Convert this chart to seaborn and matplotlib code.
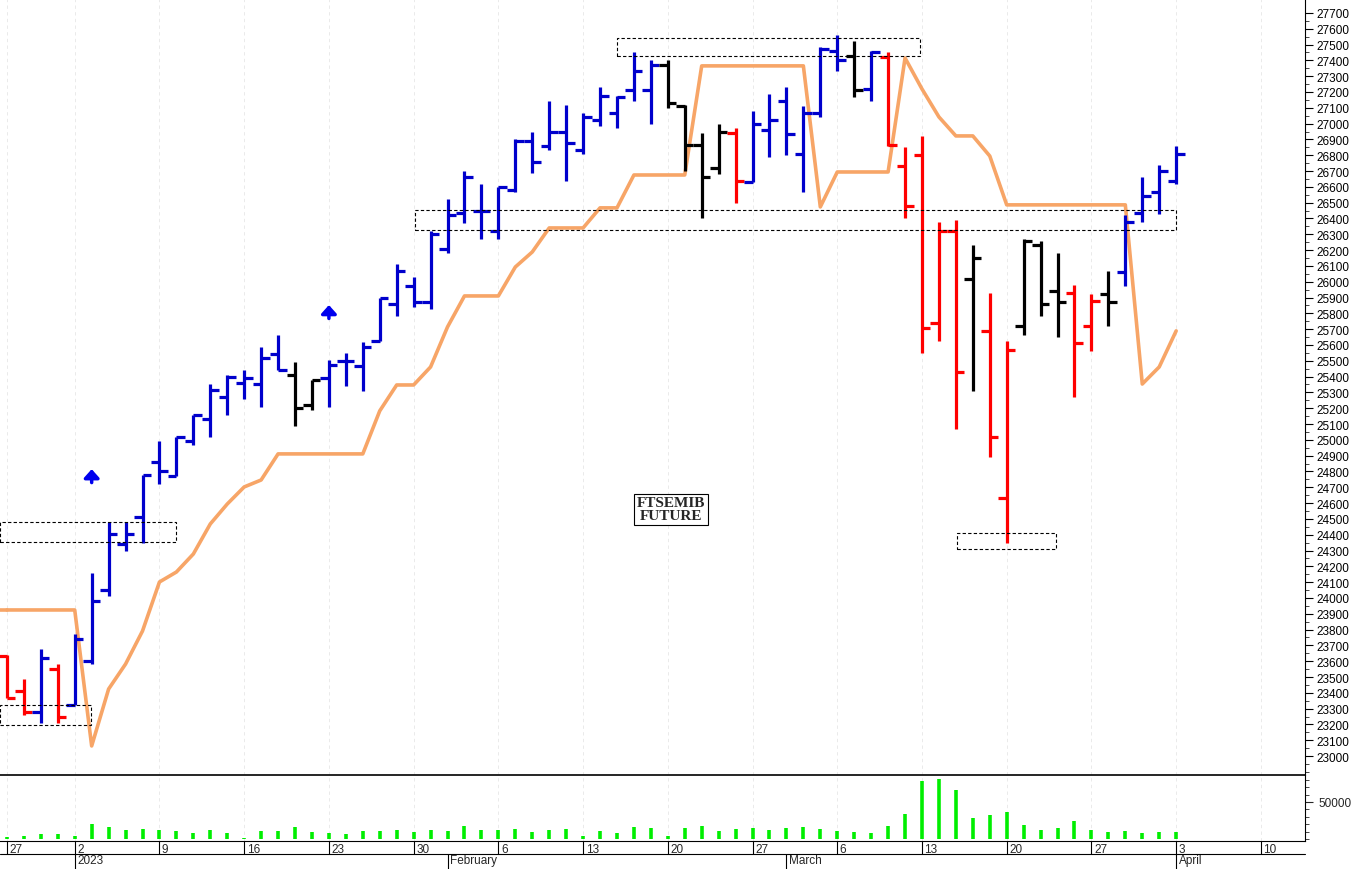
import matplotlib
matplotlib.use('Agg')
import matplotlib.pyplot as plt
from matplotlib.patches import Rectangle
import numpy as np
import pandas as pd
import seaborn as sns

# Daily bars, FTSEMIB future, 27 Dec 2022 -> 3 Apr 2023
opens = [23630, 23410, 23280, 23550, 23320, 23600, 24050, 24340, 24510, 24860,
         24770, 24990, 25130, 25270, 25360, 25350, 25540, 25410, 25220, 25390,
         25500, 25470, 25625, 25860, 25970, 25870, 26210, 26435, 26450, 26320,
         26580, 26890, 26860, 26950, 26830, 27020, 27070, 27210, 27210, 27370,
         27110, 26865, 26720, 26940, 26630, 26960, 27140, 26810, 27070, 27460,
         27430, 27220, 27420, 26730, 26800, 25740, 26320, 26020, 25690, 24630,
         25720, 26230, 25940, 25930, 25720, 25920, 26060, 26435, 26570, 26640]
highs = [23640, 23490, 23680, 23580, 23770, 24160, 24480, 24480, 24780, 24990,
         25020, 25160, 25350, 25410, 25440, 25590, 25660, 25490, 25380, 25505,
         25550, 25620, 25900, 26110, 26030, 26320, 26520, 26700, 26620, 26600,
         26900, 26950, 27140, 27120, 27070, 27230, 27175, 27450, 27400, 27400,
         27120, 26940, 27000, 26970, 27080, 27190, 27230, 27110, 27485, 27560,
         27520, 27460, 27450, 26850, 26920, 26380, 26390, 26230, 25930, 25625,
         26270, 26260, 26180, 25980, 25920, 26070, 26420, 26660, 26740, 26860]
lows = [23370, 23260, 23210, 23210, 23320, 23580, 24010, 24300, 24350, 24720,
        24770, 24970, 25020, 25160, 25260, 25210, 25440, 25090, 25190, 25210,
        25340, 25310, 25625, 25780, 25840, 25830, 26180, 26370, 26270, 26270,
        26570, 26690, 26830, 26640, 26810, 26985, 26970, 27140, 27000, 27100,
        26700, 26400, 26680, 26500, 26630, 26790, 26800, 26570, 27040, 27330,
        27170, 27140, 26860, 26400, 25550, 25625, 25070, 25310, 24890, 24350,
        25660, 25780, 25650, 25270, 25560, 25720, 25970, 26380, 26430, 26620]
closes = [23370, 23280, 23620, 23250, 23740, 23980, 24405, 24405, 24780, 24800,
          25020, 25160, 25315, 25400, 25390, 25520, 25440, 25200, 25380, 25475,
          25500, 25590, 25900, 26070, 25870, 26300, 26420, 26660, 26450, 26600,
          26890, 26760, 26950, 26880, 27040, 27175, 27170, 27330, 27370, 27130,
          26865, 26660, 26950, 26640, 27000, 27020, 26935, 27070, 27470, 27400,
          27210, 27450, 26865, 26480, 25710, 26320, 25430, 26150, 25020, 25570,
          26260, 25860, 25870, 25610, 25880, 25870, 26380, 26540, 26700, 26810]
bar_colors = (['r', 'r', 'b', 'r'] + ['b'] * 13 + ['k'] * 2 + ['b'] * 20 + ['k'] * 4
              + ['r'] + ['b'] * 6 + ['k', 'b'] + ['r'] * 5 + ['k', 'r', 'r', 'k', 'k', 'k',
              'r', 'r', 'k'] + ['b'] * 4)
stop_line = ([23924] * 5 + [23064, 23424, 23582, 23791, 24101, 24164, 24278, 24468,
             24594, 24702, 24746] + [24911] * 6 + [25183, 25347, 25347, 25461, 25714]
             + [25910] * 3 + [26093, 26188] + [26340] * 3 + [26467] * 2 + [26675] * 4
             + [27365] * 7 + [26473] + [26694] * 4 + [27415, 27219, 27042, 26922, 26922,
             26795] + [26486] * 8 + [25353, 25461, 25689])
volume = [2250, 4500, 6750, 6750, 3600, 20250, 15750, 12150, 13500, 11700,
          10800, 8100, 12600, 8100, 1350, 10350, 11250, 15750, 9000, 8100,
          6300, 10800, 10800, 12150, 9900, 11700, 10800, 17100, 12150, 12600,
          13500, 9000, 12600, 13050, 4500, 10800, 8100, 15750, 14850, 3600,
          14400, 17550, 10800, 13050, 14850, 11700, 14400, 15750, 13050, 10800,
          9000, 8100, 17100, 33750, 78750, 81000, 66150, 27900, 32400, 36900,
          18900, 11700, 14400, 24750, 12600, 9000, 10800, 8100, 9000, 9000]

tick_pos = [0, 4, 9, 14, 19, 24, 29, 34, 39, 44, 49, 54, 59, 64, 69, 74]
tick_labels = ['27', '2', '9', '16', '23', '30', '6', '13', '20', '27',
               '6', '13', '20', '27', '3', '10']
month_pos = [4, 26, 46, 69]
month_labels = ['2023', 'February', 'March', 'April']

# dashed boxes: (x0, x1, price low, price high)
boxes = [(-0.41, 9.97, 24354, 24481), (-0.41, 4.96, 23197, 23323),
         (36.0, 53.9, 27428, 27542), (24.07, 69.0, 26328, 26454),
         (56.05, 61.9, 24310, 24411)]
arrows = [(5, 24772), (19, 25810)]

df = pd.DataFrame({'day': np.arange(len(closes)), 'open': opens, 'high': highs,
                   'low': lows, 'close': closes, 'color': bar_colors,
                   'stop': stop_line, 'volume': volume})
cmap = {'r': '#ff0000', 'b': '#0000cc', 'k': '#000000'}

sns.set_style('white')
plt.rcParams['font.family'] = ['Liberation Sans', 'DejaVu Sans']

fig = plt.figure(figsize=(13.52, 8.70), dpi=100)
ax = fig.add_axes([0, 0.108, 0.9652, 0.892])
axv = fig.add_axes([0, 0.0322, 0.9652, 0.0759], sharex=ax)
axv.patch.set_visible(False)

xlim = (-0.41, 76.6)
for a in (ax, axv):
    for p in tick_pos:
        a.axvline(p, color='#e6e6e6', lw=0.6, ls=(0, (4, 4)), zorder=0)

# price bars
for _, r in df.iterrows():
    c = cmap[r['color']]
    ax.vlines(r['day'], r['low'], r['high'], color=c, lw=2.3, zorder=3)
    ax.hlines(r['open'], r['day'] - 0.5, r['day'], color=c, lw=2.3, zorder=3)
    ax.hlines(r['close'], r['day'], r['day'] + 0.5, color=c, lw=2.3, zorder=3)

sns.lineplot(data=df, x='day', y='stop', ax=ax, color='#f7a567', lw=2.6, zorder=2)
ax.plot([xlim[0], 0], [stop_line[0], stop_line[0]], color='#f7a567', lw=2.6, zorder=2)

for x0, x1, lo, hi in boxes:
    ax.add_patch(Rectangle((x0, lo), x1 - x0, hi - lo, fill=False, ec='black',
                           lw=0.8, ls=(0, (3, 2)), zorder=4))
for xa, ya in arrows:
    ax.annotate('', xy=(xa, ya + 60), xytext=(xa, ya - 60),
                arrowprops=dict(arrowstyle='-|>,head_width=0.45,head_length=0.5',
                                color='#0000ee', lw=2.5))

ax.text(39.2, 24560, 'FTSEMIB\nFUTURE', ha='center', va='center', fontsize=11,
        fontweight='bold', linespacing=1.0, family=['Liberation Serif', 'DejaVu Serif'],
        bbox=dict(facecolor='white', edgecolor='black', lw=0.8, pad=2))

ax.set_xlim(*xlim)
ax.set_ylim(22880, 27788)
ax.yaxis.tick_right()
ax.set_yticks(np.arange(23000, 27701, 100))
ax.set_yticks(np.arange(22900, 27750, 50), minor=True)
ax.tick_params(axis='y', which='major', direction='out', length=6, labelsize=8.5,
               colors='black', pad=2, right=True)
ax.tick_params(axis='y', which='minor', direction='out', length=3, right=True)
ax.tick_params(axis='x', bottom=False, labelbottom=False)
ax.set_xlabel('')
ax.set_ylabel('')
for s in ['top', 'left']:
    ax.spines[s].set_visible(False)
ax.spines['right'].set_color('black')
ax.spines['bottom'].set_color('black')
ax.spines['bottom'].set_linewidth(1.2)

# volume
axv.vlines(df['day'], 0, df['volume'], color='#00ee00', lw=2.6)
axv.set_ylim(-2700, 86460)
axv.yaxis.tick_right()
axv.set_yticks([50000])
axv.set_yticklabels(['50000'])
axv.set_yticks([0, 10000, 20000, 30000, 40000, 60000, 70000, 80000], minor=True)
axv.tick_params(axis='y', which='major', length=6, labelsize=8.5, right=True)
axv.tick_params(axis='y', which='minor', length=3, right=True)
axv.tick_params(axis='x', bottom=False, labelbottom=False)
for s in ['top', 'left']:
    axv.spines[s].set_visible(False)
axv.spines['bottom'].set_color('black')
axv.spines['right'].set_color('black')

# date strip under the volume panel
trans = axv.get_xaxis_transform()
for p, lab in zip(tick_pos, tick_labels):
    axv.plot([p, p], [0, -0.2], transform=trans, color='black', lw=0.8, clip_on=False)
    axv.text(p + 0.15, -0.03, lab, transform=trans, ha='left', va='top', fontsize=8.5)
for p, lab in zip(month_pos, month_labels):
    axv.plot([p, p], [-0.2, -0.45], transform=trans, color='black', lw=0.8, clip_on=False)
    axv.text(p + 0.15, -0.2, lab, transform=trans, ha='left', va='top', fontsize=8.5)
axv.plot([xlim[0], xlim[1]], [-0.2, -0.2], transform=trans, color='black', lw=0.8,
         clip_on=False)

fig.savefig('out.png', dpi=100)
